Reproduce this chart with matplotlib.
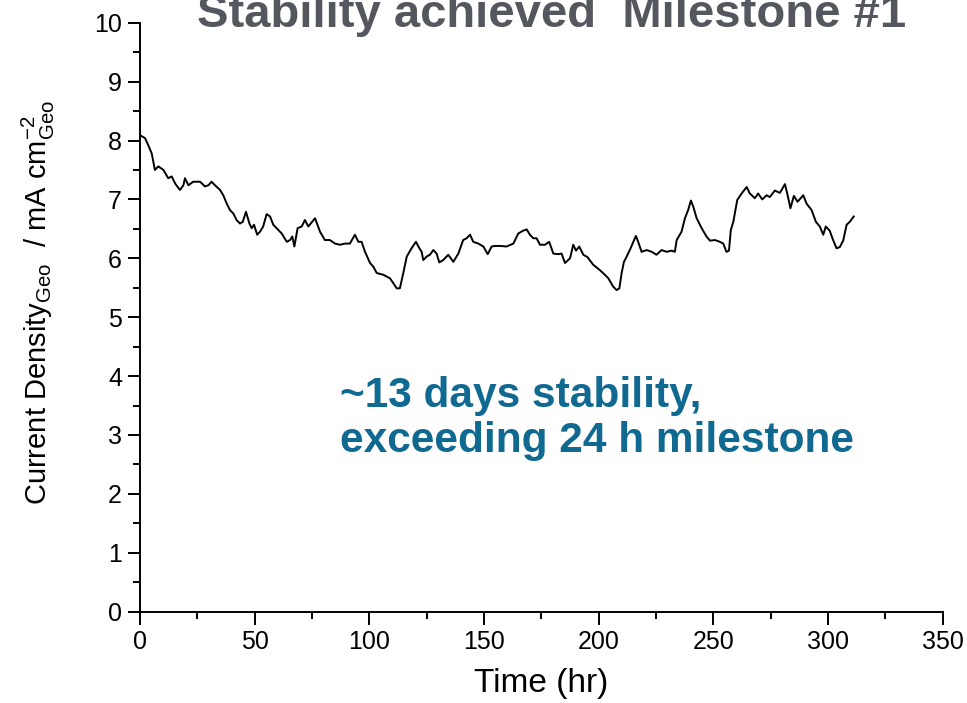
# -*- coding: utf-8 -*-

import matplotlib
matplotlib.use("Agg")
import matplotlib.pyplot as plt
from matplotlib.ticker import MultipleLocator

OUTPUT_PATH = "out.png"

# chronoamperometry trace, hours vs mA cm^-2 (geometric)
time_hr = [
    0.0, 2.2, 3.6, 5.1, 6.5, 8.0, 10.2, 12.3, 13.8, 15.3, 17.4, 18.9, 19.6, 21.1, 23.2,
    26.2, 28.3, 29.8, 31.2, 32.7, 34.9, 36.3, 37.8, 39.2, 40.7, 42.1, 43.6, 44.8, 46.2,
    47.7, 48.7, 49.7, 51.1, 52.3, 53.7, 55.2, 56.7, 58.1, 60.3, 61.8, 64.0, 65.4, 66.4,
    67.3, 68.7, 70.5, 71.9, 73.4, 76.3, 78.5, 80.6, 82.8, 85.0, 87.2, 89.4, 91.5, 93.7,
    95.2, 96.6, 98.1, 100.3, 101.7, 103.2, 106.1, 109.0, 110.4, 111.9, 113.3, 114.8,
    116.3, 118.4, 120.3, 121.8, 122.8, 123.5, 125.0, 126.4, 127.9, 129.3, 130.5, 132.2,
    134.4, 136.6, 138.8, 140.9, 142.4, 143.9, 145.3, 147.5, 149.7, 151.6, 153.3, 154.8,
    157.0, 159.8, 162.8, 164.9, 167.1, 168.6, 170.0, 171.5, 172.9, 174.4, 176.6, 178.4,
    180.2, 182.4, 183.8, 185.3, 186.7, 187.5, 188.9, 190.1, 191.5, 193.3, 195.1, 197.6,
    200.5, 202.7, 204.2, 206.3, 207.8, 209.0, 210.0, 211.0, 212.2, 213.9, 215.1, 216.2,
    217.2, 218.7, 220.9, 223.1, 225.2, 227.4, 229.6, 231.8, 233.2, 234.0, 236.1, 237.6,
    239.0, 240.2, 241.2, 242.7, 244.9, 247.0, 248.5, 250.7, 252.8, 254.3, 255.7, 256.8,
    257.6, 258.7, 260.4, 262.3, 264.5, 265.9, 268.1, 269.5, 271.3, 273.2, 274.6, 276.8,
    279.0, 281.2, 282.2, 283.6, 285.1, 286.7, 289.2, 290.6, 292.8, 294.7, 296.4, 297.9,
    299.0, 300.7, 302.2, 303.7, 305.1, 306.6, 308.1, 309.5, 311.2,
]
current_density = [
    8.09, 8.04, 7.92, 7.78, 7.50, 7.56, 7.50, 7.36, 7.39, 7.27, 7.16, 7.24, 7.36, 7.24, 7.30,
    7.30, 7.22, 7.24, 7.30, 7.24, 7.16, 7.07, 6.93, 6.82, 6.76, 6.65, 6.59, 6.62, 6.79,
    6.59, 6.51, 6.57, 6.40, 6.45, 6.54, 6.75, 6.71, 6.57, 6.48, 6.42, 6.28, 6.31, 6.37,
    6.20, 6.51, 6.54, 6.65, 6.54, 6.68, 6.45, 6.31, 6.31, 6.25, 6.23, 6.25, 6.25, 6.40,
    6.28, 6.28, 6.11, 5.92, 5.86, 5.75, 5.72, 5.66, 5.58, 5.49, 5.49, 5.75,
    6.03, 6.17, 6.28, 6.17, 6.11, 5.97, 6.03, 6.06, 6.14, 6.08, 5.93, 5.97,
    6.06, 5.94, 6.08, 6.31, 6.34, 6.40, 6.28, 6.25, 6.20, 6.07, 6.20, 6.21,
    6.21, 6.20, 6.25, 6.42, 6.47, 6.49, 6.40, 6.34, 6.34, 6.23, 6.23, 6.28,
    6.08, 6.07, 6.08, 5.92, 5.97, 6.00, 6.23, 6.13, 6.20, 6.06, 6.02, 5.89,
    5.80, 5.72, 5.66, 5.52, 5.46, 5.49, 5.75, 5.94, 6.03, 6.17, 6.28, 6.38,
    6.28, 6.11, 6.14, 6.11, 6.06, 6.14, 6.11, 6.13, 6.11, 6.31, 6.45, 6.68,
    6.82, 6.98, 6.88, 6.68, 6.51, 6.37, 6.30, 6.31, 6.28, 6.25, 6.11, 6.13,
    6.48, 6.62, 6.99, 7.10, 7.21, 7.10, 7.02, 7.10, 7.00, 7.07, 7.04, 7.15,
    7.11, 7.26, 7.10, 6.85, 7.06, 6.96, 7.07, 6.93, 6.82, 6.62, 6.54, 6.40,
    6.54, 6.47, 6.31, 6.17, 6.19, 6.30, 6.57, 6.62, 6.71,
]

title_text = "Stability achieved  Milestone #1"
note_text = "~13 days stability,\nexceeding 24 h milestone"

plt.rcParams["font.family"] = ["Liberation Sans", "DejaVu Sans"]
plt.rcParams["mathtext.fontset"] = "custom"
plt.rcParams["mathtext.rm"] = "Liberation Sans"

fig = plt.figure(figsize=(9.67, 7.03), dpi=100)
ax = fig.add_axes([0.1448, 0.1299, 0.8301, 0.8378])

ax.plot(time_hr, current_density, color="black", linewidth=1.4)

ax.set_xlim(0, 350)
ax.set_ylim(0, 10)
ax.xaxis.set_major_locator(MultipleLocator(50))
ax.xaxis.set_minor_locator(MultipleLocator(25))
ax.yaxis.set_major_locator(MultipleLocator(1))
ax.yaxis.set_minor_locator(MultipleLocator(0.5))

for side in ["top", "right"]:
    ax.spines[side].set_visible(False)
for side in ["left", "bottom"]:
    ax.spines[side].set_linewidth(1.4)
    ax.spines[side].set_clip_on(False)

ax.tick_params(which="major", direction="out", length=9, width=1.4, labelsize=18, pad=4)
ax.tick_params(which="minor", direction="out", length=5, width=1.4)

ax.set_xlabel("Time (hr)", fontsize=24, labelpad=10)
ax.set_ylabel(r"Current Density$_{\mathregular{Geo}}$  / mA cm$^{\mathregular{-2}}_{\mathregular{Geo}}$",
              fontsize=21)
# right edge of the rotated label sits just left of the tick numbers
ax.yaxis.set_label_coords(-0.104, 0.525)

ax.text(87.2, 2.71, note_text, fontsize=30.5, fontweight="bold", color="#0f6991",
        va="baseline", ha="left", linespacing=1.15)

fig.text(0.57, 0.9616, title_text, fontsize=34, fontweight="bold", color="#54585e",
         ha="center", va="baseline")

fig.savefig(OUTPUT_PATH, dpi=100)
